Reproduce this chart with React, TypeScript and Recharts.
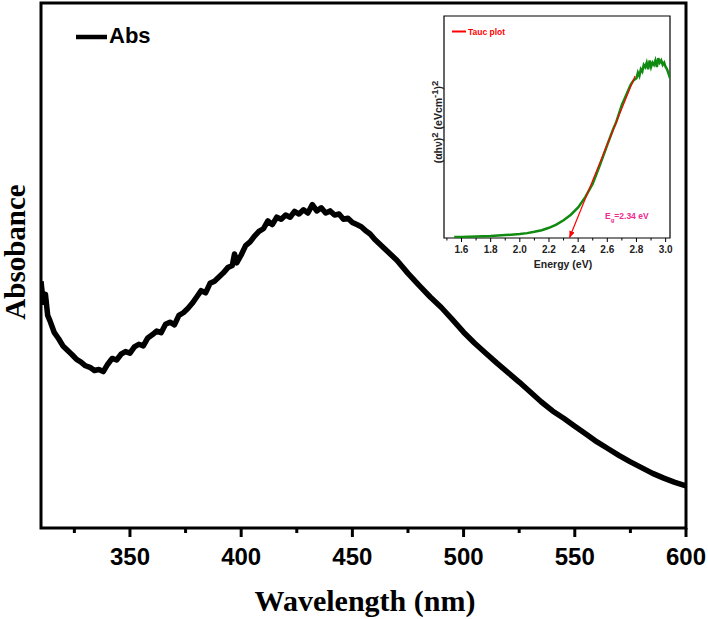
import React from "react";
import { LineChart, Line, XAxis, YAxis, ReferenceArea } from "recharts";

// ---- Main absorbance spectrum ----
const wavelengths: number[] = [
  310, 311, 312, 313, 314, 316, 318, 320, 322, 324, 326, 328, 330, 332, 334, 336, 338, 340,
  342, 344, 346, 348, 350, 352, 354, 356, 358, 360, 362, 364, 366, 368, 370, 372, 374, 376,
  378, 380, 382, 384, 386, 388, 390, 392, 394, 396, 397, 398, 400, 402, 404, 406, 408, 410,
  412, 414, 416, 418, 420, 422, 424, 426, 428, 430, 432, 434, 436, 438, 440, 442, 444, 446,
  448, 450, 452, 454, 456, 458, 460, 465, 470, 475, 480, 485, 490, 495, 500, 505, 510, 515,
  520, 525, 530, 535, 540, 545, 550, 555, 560, 565, 570, 575, 580, 585, 590, 595, 600,
];
const absorbance: number[] = [
  0.470, 0.430, 0.445, 0.405, 0.395, 0.372, 0.360, 0.346, 0.338, 0.330, 0.321, 0.316, 0.309, 0.306, 0.300, 0.302, 0.298, 0.312,
  0.323, 0.320, 0.331, 0.336, 0.333, 0.345, 0.350, 0.347, 0.362, 0.368, 0.375, 0.372, 0.388, 0.392, 0.387, 0.405, 0.410, 0.418,
  0.428, 0.440, 0.452, 0.448, 0.466, 0.470, 0.478, 0.486, 0.496, 0.500, 0.522, 0.505, 0.520, 0.538, 0.545, 0.556, 0.565, 0.570,
  0.585, 0.578, 0.592, 0.588, 0.596, 0.592, 0.603, 0.598, 0.606, 0.600, 0.616, 0.604, 0.610, 0.600, 0.604, 0.596, 0.598, 0.588,
  0.590, 0.582, 0.578, 0.574, 0.566, 0.560, 0.550, 0.530, 0.510, 0.485, 0.462, 0.440, 0.420, 0.397, 0.373, 0.352, 0.333, 0.314,
  0.296, 0.278, 0.259, 0.240, 0.223, 0.209, 0.194, 0.179, 0.164, 0.151, 0.138, 0.126, 0.115, 0.104, 0.095, 0.087, 0.080,
];
const mainTicks: number[] = [325, 350, 375, 400, 425, 450, 475, 500, 525, 550, 575, 600];
const mainMajorTicks: number[] = [350, 400, 450, 500, 550, 600];

// ---- Inset Tauc plot ----
const energies: number[] = [
  1.55, 1.6, 1.7, 1.8, 1.9, 2.0, 2.05, 2.1, 2.15, 2.2, 2.25, 2.3, 2.35, 2.4, 2.45, 2.5, 2.55, 2.6,
  2.62, 2.64, 2.66, 2.68, 2.7, 2.72, 2.74, 2.76, 2.78, 2.8, 2.81, 2.82, 2.83, 2.84, 2.85, 2.86,
  2.87, 2.88, 2.89, 2.9, 2.91, 2.92, 2.93, 2.94, 2.95, 2.96, 2.97, 2.98, 2.99, 3.0, 3.01, 3.02, 3.03,
];
const taucValues: number[] = [
  0.004, 0.005, 0.007, 0.009, 0.013, 0.018, 0.022, 0.028, 0.035, 0.046, 0.06, 0.08, 0.105, 0.138, 0.185, 0.245, 0.33, 0.42,
  0.455, 0.49, 0.52, 0.56, 0.6, 0.63, 0.66, 0.69, 0.71, 0.72, 0.745, 0.73, 0.76, 0.75, 0.78, 0.77,
  0.79, 0.76, 0.8, 0.77, 0.79, 0.78, 0.8, 0.77, 0.81, 0.79, 0.8, 0.78, 0.79, 0.77, 0.76, 0.74, 0.72,
];
const fitEnergies: number[] = [2.34, 2.79];
const fitValues: number[] = [0, 0.73];
const insetTicks: number[] = [1.5, 1.6, 1.7, 1.8, 1.9, 2.0, 2.1, 2.2, 2.3, 2.4, 2.5, 2.6, 2.7, 2.8, 2.9, 3.0];
const insetMajorTicks: number[] = [1.6, 1.8, 2.0, 2.2, 2.4, 2.6, 2.8, 3.0];

const mainData = wavelengths.map((nm, i) => ({ nm, a: absorbance[i] }));
const taucData = energies.map((e, i) => ({ e, v: taucValues[i] }));
const fitData = fitEnergies.map((e, i) => ({ e, v: fitValues[i] }));

const SANS = "'Liberation Sans', Arial, Helvetica, sans-serif";
const SERIF = "'Liberation Serif', 'Times New Roman', Times, serif";

const MainTick = (props: any) => {
  const { x, y, payload } = props;
  const v = payload.value;
  const major = mainMajorTicks.includes(v);
  return (
    <g>
      <line x1={x} x2={x} y1={y} y2={y + (major ? 9 : 5)} stroke="#000" strokeWidth={3} />
      {major && (
        <text x={x} y={y + 37} textAnchor="middle" fontFamily={SANS} fontWeight="bold" fontSize={24} fill="#000">
          {v}
        </text>
      )}
    </g>
  );
};

const InsetTick = (props: any) => {
  const { x, y, payload } = props;
  const v = payload.value;
  const major = insetMajorTicks.some((t) => Math.abs(t - v) < 1e-6);
  return (
    <g>
      <line x1={x} x2={x} y1={y} y2={y + (major ? 4 : 2.5)} stroke="#000" strokeWidth={1} />
      {major && (
        <text x={x} y={y + 15} textAnchor="middle" fontFamily={SANS} fontWeight="bold" fontSize={10} fill="#222">
          {v.toFixed(1)}
        </text>
      )}
    </g>
  );
};

export default function App() {
  return (
    <div style={{ position: "absolute", left: 0, top: 0, width: 708, height: 619, background: "#fff", overflow: "hidden" }}>
      <svg width={0} height={0} style={{ position: "absolute" }}>
        <defs>
          <marker id="arrowHead" viewBox="0 0 10 10" refX={10} refY={5} markerWidth={7} markerHeight={7} orient="auto-start-reverse" markerUnits="userSpaceOnUse">
            <path d="M0,1 L10,5 L0,9 z" fill="#ff0000" />
          </marker>
        </defs>
      </svg>

      <div style={{ position: "absolute", left: 0, top: 0 }}>
        <LineChart width={708} height={619} data={mainData} margin={{ top: 3, right: 22, bottom: 0, left: 41 }}>
          <XAxis
            type="number"
            dataKey="nm"
            domain={[310, 600]}
            allowDataOverflow
            ticks={mainTicks}
            interval={0}
            tick={<MainTick />}
            tickLine={false}
            tickSize={0}
            tickMargin={0}
            axisLine={false}
            height={91}
          />
          <YAxis type="number" domain={[0, 1]} allowDataOverflow hide width={0} />
          <ReferenceArea x1={310} x2={600} y1={0} y2={1} fill="none" fillOpacity={0} stroke="#000" strokeWidth={3} ifOverflow="visible" />
          <Line
            type="linear"
            dataKey="a"
            stroke="#000"
            strokeWidth={5.5}
            strokeLinejoin="round"
            dot={false}
            isAnimationActive={false}
          />
        </LineChart>
      </div>

      <div style={{ position: "absolute", left: 410, top: 8 }}>
        <LineChart width={270} height={270} margin={{ top: 8, right: 10, bottom: 0, left: 34 }}>
          <XAxis
            type="number"
            dataKey="e"
            domain={[1.48, 3.03]}
            allowDataOverflow
            ticks={insetTicks}
            interval={0}
            tick={<InsetTick />}
            tickLine={false}
            tickSize={0}
            tickMargin={0}
            axisLine={false}
            height={40}
          />
          <YAxis type="number" domain={[0, 1]} allowDataOverflow hide width={0} />
          <ReferenceArea x1={1.48} x2={3.03} y1={0} y2={1} fill="#fff" fillOpacity={0} stroke="#000" strokeWidth={1.2} ifOverflow="visible" />
          <Line
            data={taucData}
            type="linear"
            dataKey="v"
            stroke="#108a10"
            strokeWidth={2.5}
            dot={false}
            isAnimationActive={false}
          />
          <Line
            data={fitData}
            type="linear"
            dataKey="v"
            stroke="#ff0000"
            strokeWidth={1.2}
            markerStart="url(#arrowHead)"
            dot={false}
            isAnimationActive={false}
          />
        </LineChart>
      </div>

      <svg width={708} height={619} style={{ position: "absolute", left: 0, top: 0, pointerEvents: "none" }}>
        {/* main legend */}
        <line x1={76} x2={107} y1={37} y2={37} stroke="#000" strokeWidth={4.5} />
        <text x={109} y={43} fontFamily={SANS} fontWeight="bold" fontSize={22} fill="#000">Abs</text>
        {/* main axis titles */}
        <text x={365} y={611} textAnchor="middle" fontFamily={SERIF} fontWeight="bold" fontSize={30} fill="#000">Wavelength (nm)</text>
        <text x={25} y={252} transform="rotate(-90 25 252)" textAnchor="middle" fontFamily={SERIF} fontWeight="bold" fontSize={29} fill="#000">Absobance</text>

        {/* inset legend */}
        <line x1={452} x2={466} y1={31.5} y2={31.5} stroke="#ff0000" strokeWidth={2} />
        <text x={468} y={34.5} fontFamily={SANS} fontWeight="bold" fontSize={8.5} fill="#ff0000">Tauc plot</text>
        {/* band gap annotation */}
        <text x={605} y={219} fontFamily={SANS} fontWeight="bold" fontSize={8.5} fill="#ee2a8e">
          E<tspan fontSize={6} dy={2.5}>g</tspan><tspan dy={-2.5}>=2.34 eV</tspan>
        </text>
        {/* inset axis titles */}
        <text x={563} y={268} textAnchor="middle" fontFamily={SANS} fontWeight="bold" fontSize={10.5} fill="#222">Energy (eV)</text>
        <text x={442} y={122} transform="rotate(-90 442 122)" textAnchor="middle" fontFamily={SANS} fontWeight="bold" fontSize={10.5} fill="#222">
          (αhν)<tspan fontSize={9.5} dy={-4}>2</tspan><tspan dy={4}> (eVcm</tspan><tspan fontSize={9.5} dy={-4}>-1</tspan><tspan dy={4}>)</tspan><tspan fontSize={9.5} dy={-4}>2</tspan>
        </text>
      </svg>
    </div>
  );
}
